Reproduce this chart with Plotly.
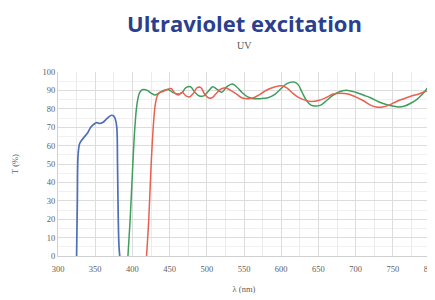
import plotly.graph_objects as go

blue_x = [325, 326, 327, 329, 332, 336, 340, 344, 348, 352, 356, 360, 364, 368, 372, 375, 377, 379, 380, 381, 382, 383]
blue_y = [0, 30, 55, 61, 63, 65, 67, 70, 71.5, 72.5, 72, 72.5, 74, 75.5, 76.5, 76, 74.5, 70, 50, 20, 5, 0]

green_x = [394, 397, 400, 403, 406, 409, 412, 415, 420, 425, 430, 436, 442, 448, 454, 460, 466, 472, 478, 484, 490, 496, 502, 508, 514, 520, 527, 534, 540, 547, 555, 563, 572, 582, 592, 600, 607, 613, 618, 623, 628, 634, 640, 646, 653, 661, 670, 680, 690, 700, 710, 720, 730, 740, 750, 758, 766, 774, 782, 790, 796, 800]
green_y = [0, 20, 45, 68, 82, 88, 90, 90.5, 90, 88.5, 87.5, 88.5, 90, 90.5, 89, 88, 88.5, 91.5, 92, 89, 87, 87, 89.5, 92, 90.5, 89, 92, 93.5, 92, 89, 86.5, 85.5, 85.5, 86, 88, 91, 93.5, 94.5, 94.5, 93, 89, 84.5, 82, 81.5, 82, 84.5, 87.5, 89.5, 90, 89, 87.5, 86, 84, 82.5, 81.5, 81, 81.5, 83, 85, 88, 91, 93]

red_x = [419, 422, 425, 428, 431, 434, 437, 442, 447, 452, 457, 462, 467, 472, 477, 482, 487, 492, 497, 502, 507, 512, 518, 525, 532, 540, 547, 555, 563, 572, 582, 592, 600, 607, 614, 622, 630, 640, 650, 660, 670, 680, 690, 700, 710, 720, 728, 736, 745, 755, 765, 775, 785, 795, 800]
red_y = [0, 20, 48, 70, 83, 87.5, 89, 89.5, 90.5, 91, 88.5, 87.5, 89, 87, 86.5, 88.5, 91.5, 91.5, 88, 86, 86, 88, 90.5, 91.5, 90, 88, 86, 85.5, 86, 88, 90.5, 92, 92.5, 91.5, 89, 86.5, 85, 84, 84.5, 86, 88, 88.5, 88, 86.5, 84.5, 82, 81, 81, 82, 84, 85.5, 87, 88, 89.5, 89]

x_ticks = [300, 350, 400, 450, 500, 550, 600, 650, 700, 750, 800]
y_ticks = [0, 10, 20, 30, 40, 50, 60, 70, 80, 90, 100]

fig = go.Figure()
fig.add_trace(go.Scatter(x=blue_x, y=blue_y, mode="lines", line=dict(color="#4f6fb8", width=1.7, shape="spline"), hoverinfo="skip"))
fig.add_trace(go.Scatter(x=green_x, y=green_y, mode="lines", line=dict(color="#3f9e5c", width=1.5, shape="spline"), hoverinfo="skip"))
fig.add_trace(go.Scatter(x=red_x, y=red_y, mode="lines", line=dict(color="#e8604f", width=1.5, shape="spline"), hoverinfo="skip"))

tickfont = dict(family="Liberation Serif, DejaVu Serif, serif", size=8.5, color="#606060")
fig.update_layout(
    width=427, height=292,
    margin=dict(l=50, r=5, t=64, b=44),
    paper_bgcolor="white", plot_bgcolor="white",
    showlegend=False,
    xaxis=dict(range=[300, 800], tickvals=x_ticks, ticktext=[str(v) for v in x_ticks],
               tickfont=tickfont, showgrid=True, gridcolor="#dcdcdc", gridwidth=1,
               minor=dict(dtick=25, showgrid=True, gridcolor="#ebebeb"),
               zeroline=False, showline=True, linecolor="#d0d0d0", ticks="",
               ticklabeloverflow="allow", automargin=False, ticklabelstandoff=5,
               title=dict(text="λ (nm)", font=tickfont, standoff=12)),
    yaxis=dict(range=[0, 100], tickvals=y_ticks, ticktext=[str(v) for v in y_ticks],
               tickfont=tickfont, showgrid=True, gridcolor="#dcdcdc", gridwidth=1,
               minor=dict(dtick=5, showgrid=True, gridcolor="#f0f0f0"),
               zeroline=False, showline=True, linecolor="#d0d0d0", ticks="",
               ticklabeloverflow="allow", automargin=False,
               title=dict(text="T (%)", font=tickfont, standoff=22)),
)
fig.add_annotation(text="<b>Ultraviolet excitation</b>", xref="paper", yref="paper",
                   x=0.5, y=1, yshift=49, xanchor="center", yanchor="middle", showarrow=False,
                   font=dict(family="Open Sans, Noto Sans, sans-serif", size=22, color="#2b3f8e"))
fig.add_annotation(text="UV", xref="paper", yref="paper",
                   x=0.5, y=1, yshift=27, xanchor="center", yanchor="middle", showarrow=False,
                   font=dict(family="Liberation Serif, DejaVu Serif, serif", size=10, color="#555555"))
fig.write_html("out.html")
